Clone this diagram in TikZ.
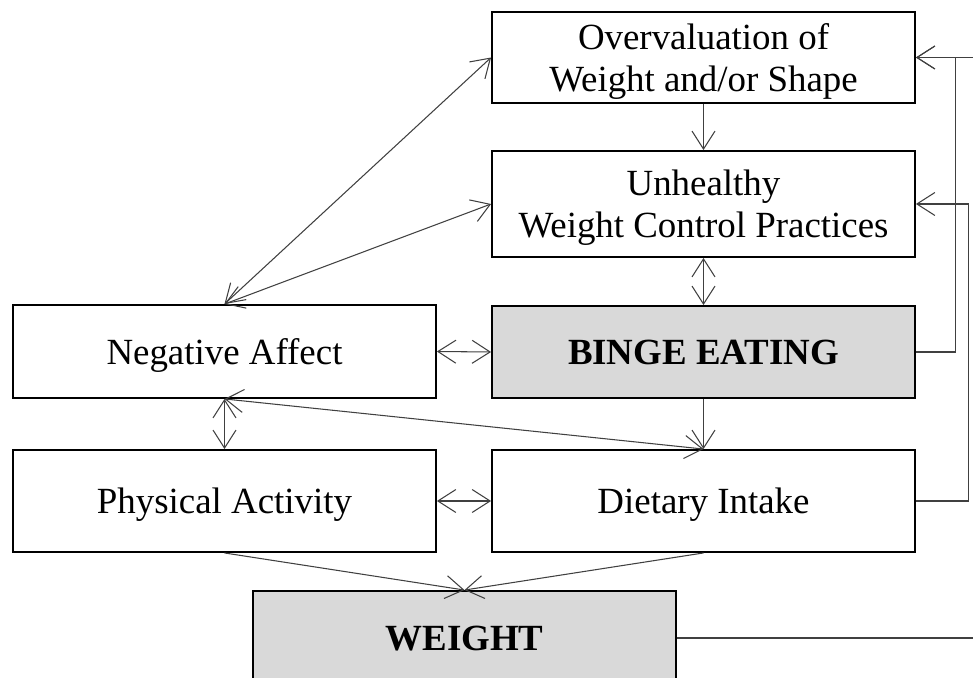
\documentclass[tikz,border=0pt]{standalone}
\usepackage{fontspec}
\setmainfont{Liberation Serif}
\usetikzlibrary{arrows.meta,positioning}

\begin{document}
\begin{tikzpicture}[
    x=0.02cm, y=-0.02cm,
    box/.style={draw, line width=1.1pt, minimum width=8.46cm, inner sep=0pt, text depth=0pt, align=center, font=\fontsize{21}{24}\selectfont},
    shaded/.style={box, fill=black!15, font=\fontsize{21}{24}\selectfont\bfseries},
    arrow/.style={-{Straight Barb[length=3.6mm, width=4.6mm]}, line width=0.6pt, draw=black!75},
    biarrow/.style={{Straight Barb[length=3.6mm, width=4.6mm]}-{Straight Barb[length=3.6mm, width=4.6mm]}, line width=0.6pt, draw=black!75}
]
\useasboundingbox (0,0) rectangle (973,678);
\clip (0,0) rectangle (973,678);

\node[box, minimum height=1.82cm] (over) at (703.5,57.5) {Overvaluation of\\Weight and/or Shape};
\node[box, minimum height=2.12cm] (unh) at (703.5,204) {Unhealthy\\Weight Control Practices};
\node[box, minimum height=1.86cm] (neg) at (224.5,351.5) {Negative Affect};
\node[shaded, minimum height=1.84cm] (binge) at (703.5,352) {BINGE EATING};
\node[box, minimum height=2.04cm] (phys) at (224.5,501) {Physical Activity};
\node[box, minimum height=2.04cm] (diet) at (703.5,501) {Dietary Intake};
\node[shaded, minimum height=1.88cm] (weight) at (464.5,638) {WEIGHT};

% middle column
\draw[arrow] (over.south) -- (unh.north);
\draw[biarrow] (unh.south) -- (binge.north);
\draw[arrow] (binge.south) -- (diet.north);

% from negative affect
\draw[biarrow] (neg.north) -- (over.west);
\draw[biarrow] (neg.north) -- (unh.west);
\draw[biarrow] (neg.east) -- (binge.west);
\draw[biarrow] (neg.south) -- (diet.north);
\draw[biarrow] (neg.south) -- (phys.north);
\draw[biarrow] (phys.east) -- (diet.west);

% into weight
\draw[arrow] (phys.south) -- (weight.north);
\draw[arrow] (diet.south) -- (weight.north);

% feedback loops on the right
\draw[arrow] (binge.east) -- ++(40,0) |- (over.east);
\draw[arrow] (diet.east) -- ++(53,0) |- (unh.east);
\draw[arrow] (weight.east) -- ++(360,0) |- (over.east);

\end{tikzpicture}
\end{document}
